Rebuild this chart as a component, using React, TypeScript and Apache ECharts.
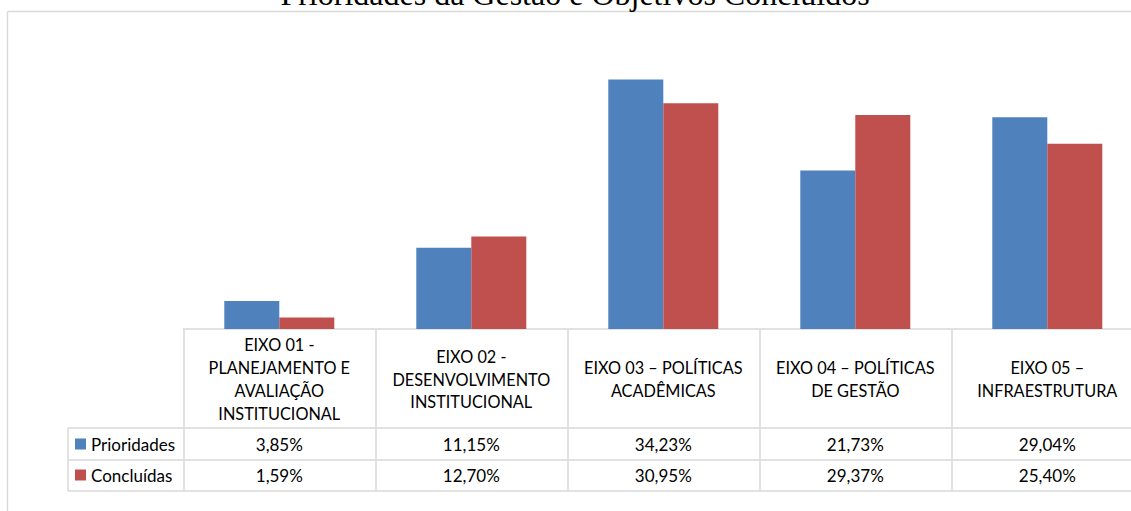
import React, { useEffect, useRef } from "react";
import * as echarts from "echarts";

const categories: string[] = [
  "EIXO 01 -\nPLANEJAMENTO E\nAVALIAÇÃO\nINSTITUCIONAL",
  "EIXO 02 -\nDESENVOLVIMENTO\nINSTITUCIONAL",
  "EIXO 03 – POLÍTICAS\nACADÊMICAS",
  "EIXO 04 – POLÍTICAS\nDE GESTÃO",
  "EIXO 05 –\nINFRAESTRUTURA",
];
const seriesNames: string[] = ["Prioridades", "Concluídas"];
const prioridades: number[] = [3.85, 11.15, 34.23, 21.73, 29.04];
const concluidas: number[] = [1.59, 12.7, 30.95, 29.37, 25.4];
const titleText = "Prioridades da Gestão e Objetivos Concluídos";

const fmt = (v: number) => v.toFixed(2).replace(".", ",") + "%";

const FONT = "Lato, 'Noto Sans', sans-serif";
const GRID_LEFT = 183.3;
const GRID_W = 960;
const GRID_TOP = 37.4;
const GRID_H = 291.6;
const LINE = "#D9D9D9";

export default function App() {
  const ref = useRef<HTMLDivElement>(null);
  useEffect(() => {
    if (!ref.current) return;
    const chart = echarts.init(ref.current, undefined, { renderer: "svg" });
    const labelCommon = {
      interval: 0,
      color: "#000",
      fontFamily: FONT,
      fontSize: 17,
      verticalAlign: "middle" as const,
      align: "center" as const,
      hideOverlap: false,
    };
    const rowLines = [428, 460, 491].map((y) => ({
      type: "line",
      shape: { x1: 68, y1: y, x2: GRID_LEFT + GRID_W, y2: y },
      style: { stroke: LINE, lineWidth: 1.5 },
      z: 1,
    }));
    chart.setOption({
      animation: false,
      backgroundColor: "#fff",
      graphic: [
        {
          type: "line",
          shape: { x1: 7.5, y1: 11.5, x2: 1160, y2: 11.5 },
          style: { stroke: LINE, lineWidth: 1.4 },
          z: 0,
        },
        {
          type: "line",
          shape: { x1: 7.5, y1: 11.5, x2: 7.5, y2: 530 },
          style: { stroke: LINE, lineWidth: 1.4 },
          z: 0,
        },
        {
          type: "text",
          x: 575,
          y: -6,
          style: {
            text: titleText,
            font: "32px 'Liberation Serif', 'Times New Roman', serif",
            fill: "#000",
            align: "center",
            verticalAlign: "middle",
          },
          z: 5,
        },
        ...rowLines,
        {
          type: "line",
          shape: { x1: 68, y1: 428, x2: 68, y2: 491 },
          style: { stroke: LINE, lineWidth: 1.5 },
          z: 1,
        },
      ],
      legend: {
        data: seriesNames,
        orient: "vertical",
        left: 75,
        top: 434,
        padding: 0,
        itemWidth: 11,
        itemHeight: 11,
        itemGap: 11,
        icon: "rect",
        itemStyle: { borderWidth: 0 },
        textStyle: { fontFamily: FONT, fontSize: 17, lineHeight: 20, color: "#000" },
      },
      grid: {
        left: GRID_LEFT,
        top: GRID_TOP,
        width: GRID_W,
        height: GRID_H,
        containLabel: false,
        outerBoundsMode: "none",
      },
      xAxis: [
        {
          type: "category",
          data: categories,
          position: "bottom",
          axisLine: { show: true, lineStyle: { color: LINE, width: 1.5 } },
          axisTick: { show: true, length: 162, interval: 0, lineStyle: { color: LINE, width: 1.5 } },
          axisLabel: { ...labelCommon, fontSize: 16.3, margin: 50, lineHeight: 22.7 },
        },
        {
          type: "category",
          data: prioridades.map(fmt),
          position: "bottom",
          axisLine: { show: false },
          axisTick: { show: false },
          axisLabel: { ...labelCommon, margin: 115 },
        },
        {
          type: "category",
          data: concluidas.map(fmt),
          position: "bottom",
          axisLine: { show: false },
          axisTick: { show: false },
          axisLabel: { ...labelCommon, margin: 146 },
        },
      ],
      yAxis: { type: "value", min: 0, max: 40, show: false },
      series: [
        {
          name: seriesNames[0],
          type: "bar",
          data: prioridades,
          barWidth: 55,
          barGap: "0%",
          itemStyle: { color: "#4F81BD" },
        },
        {
          name: seriesNames[1],
          type: "bar",
          data: concluidas,
          barWidth: 55,
          barGap: "0%",
          itemStyle: { color: "#C0504D" },
        },
      ],
    });
    return () => chart.dispose();
  }, []);
  return (
    <div
      style={{
        position: "fixed",
        left: 0,
        top: 0,
        width: 1131,
        height: 511,
        overflow: "hidden",
      }}
    >
      <div ref={ref} style={{ width: 1160, height: 530 }} />
    </div>
  );
}
